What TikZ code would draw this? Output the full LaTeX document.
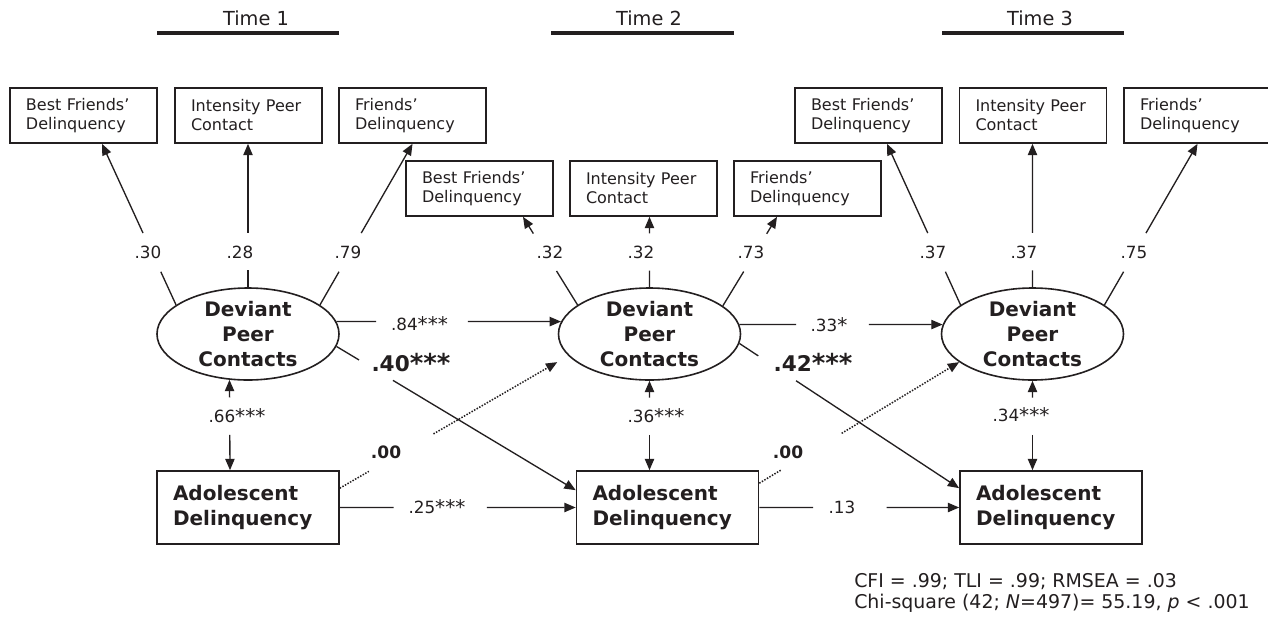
\documentclass[tikz,border=0pt]{standalone}
\usepackage{fontspec}
\usepackage{graphicx}
\setmainfont{DejaVu Sans}
\usetikzlibrary{shapes.geometric,arrows.meta,calc}
\definecolor{ink}{HTML}{231F20}
\newcommand\brkline[6]{%
  \draw[#1] (#3) -- ($(#3)!#5!(#4)$);
  \draw[#2] ($(#3)!#6!(#4)$) -- (#4);}
\newcommand\stars[1]{\raisebox{-0.12ex}{\scalebox{1.2}{#1}}}
\begin{document}
\begin{tikzpicture}[x=0.75pt,y=-0.75pt,
  ind/.style={draw=ink, line width=1.25pt, text width=86.25pt, inner xsep=12pt, inner ysep=0pt,
    minimum height=41.25pt, align=left, text=ink, font=\fontsize{12}{14.25}\selectfont},
  lat/.style={ellipse, draw=ink, line width=1.2pt, minimum width=136.5pt, minimum height=69pt,
    inner sep=-12pt, align=center, text=ink, font=\bfseries\fontsize{15}{18.75}\selectfont},
  obs/.style={draw=ink, line width=1.25pt, text width=112.5pt, inner xsep=12pt, inner ysep=0pt,
    minimum height=54.75pt, align=left, text=ink, font=\bfseries\fontsize{15}{18.75}\selectfont},
  conn/.style={line width=1pt, draw=ink},
  arr/.style={conn, -{Triangle[length=8.5pt,width=7pt]}},
  arrs/.style={conn, {Triangle[length=8.5pt,width=7pt]}-},
  dots/.style={conn, line width=1.15pt, dash pattern=on 1.1pt off 1.1pt},
  dotarr/.style={dots, -{Triangle[length=8.5pt,width=7pt]}},
  lab/.style={inner sep=0pt, text=ink, font=\fontsize{12.6}{14}\selectfont},
  blab/.style={inner sep=0pt, text=ink, font=\bfseries\fontsize{16.2}{18}\selectfont},
  slab/.style={inner sep=0pt, text=ink, font=\bfseries\fontsize{12.8}{14}\selectfont},
  timelab/.style={inner sep=0pt, text=ink, font=\fontsize{14.5}{17}\selectfont},
  timebar/.style={draw=ink, line width=3.2pt}
]
\useasboundingbox (0,0) rectangle (1268,618);
\fill[white] (0,0) rectangle (1268,618);

% time headings
\node[timelab] (time1) at (256,18) {Time 1};
\node[timelab] (time2) at (649,18) {Time 2};
\node[timelab] (time3) at (1040,18) {Time 3};
\draw[timebar] (157,33) -- (339,33);
\draw[timebar] (551,33) -- (734,33);
\draw[timebar] (942,33) -- (1124,33);

% indicator boxes
\node[ind] (b1) at (83.5,115.5) {Best Friends’\\Delinquency};
\node[ind] (b2) at (248.5,115.5) {Intensity Peer\\Contact};
\node[ind] (b3) at (412.5,115.5) {Friends’\\Delinquency};
\node[ind] (m1) at (479.5,188.5) {Best Friends’\\Delinquency};
\node[ind] (m2) at (643.5,188.5) {Intensity Peer\\Contact};
\node[ind] (m3) at (807.5,188.5) {Friends’\\Delinquency};
\node[ind] (c1) at (868.5,115.5) {Best Friends’\\Delinquency};
\node[ind] (c2) at (1033,115.5) {Intensity Peer\\Contact};
\node[ind] (c3) at (1197.5,115.5) {Friends’\\Delinquency};

% latent variables
\node[lat] (e1) at (248,334) {Deviant\\Peer\\Contacts};
\node[lat] (e2) at (649.5,334) {Deviant\\Peer\\Contacts};
\node[lat] (e3) at (1032.5,334) {Deviant\\Peer\\Contacts};

% observed delinquency
\node[obs] (ad1) at (248,507.5) {Adolescent\\Delinquency};
\node[obs] (ad2) at (667.5,507.5) {Adolescent\\Delinquency};
\node[obs] (ad3) at (1051,507.5) {Adolescent\\Delinquency};

% arrow end points on boxes
\coordinate (b1t) at ($(b1.south)+(18.5,0)$);
\coordinate (b2t) at (e1.north |- b2.south);
\coordinate (m1t) at ($(m1.south)+(43.5,0)$);
\coordinate (m2t) at (e2.north |- m2.south);
\coordinate (m3t) at ($(m3.south)+(-30.5,0)$);
\coordinate (c1t) at ($(c1.south)+(18.5,0)$);
\coordinate (c2t) at (e3.north |- c2.south);
\coordinate (ad1n) at ($(ad1.north)+(-18,0)$);
\coordinate (ad2n) at (e2.south |- ad2.north);
\coordinate (ad3n) at (e3.south |- ad3.north);
\coordinate (ad1r) at ($(ad1.north east)+(0,18)$);
\coordinate (ad2r) at ($(ad2.north east)+(0,13)$);
\coordinate (ad2l) at ($(ad2.north west)+(0,20)$);
\coordinate (ad3l) at ($(ad3.north west)+(0,18)$);

% loadings time 1
\brkline{conn}{arr}{e1.158}{b1t}{0.206}{0.446}
\brkline{conn}{arr}{e1.north}{b2t}{0.117}{0.379}
\brkline{conn}{arr}{e1.22}{b3.south}{0.206}{0.446}
\node[lab] (l1) at (148,252) {.30};
\node[lab] (l2) at (240,252) {.28};
\node[lab] (l3) at (348,252) {.79};

% loadings time 2
\brkline{conn}{arr}{e2.158}{m1t}{0.385}{0.81}
\brkline{conn}{arr}{e2.north}{m2t}{0.236}{0.764}
\brkline{conn}{arr}{e2.21}{m3t}{0.385}{0.81}
\node[lab] (l4) at (550,252) {.32};
\node[lab] (l5) at (641,252) {.32};
\node[lab] (l6) at (751,252) {.73};

% loadings time 3
\brkline{conn}{arr}{e3.158}{c1t}{0.206}{0.446}
\brkline{conn}{arr}{e3.north}{c2t}{0.117}{0.379}
\brkline{conn}{arr}{e3.22}{c3.south}{0.206}{0.446}
\node[lab] (l7) at (933,252) {.37};
\node[lab] (l8) at (1024,252) {.37};
\node[lab] (l9) at (1134,252) {.75};

% stability paths
\brkline{conn}{arr}{e1.8}{e2.172}{0.177}{0.585}
\node[lab] (p1) at (419.5,324) {.84\stars{***}};
\brkline{conn}{arr}{e2.6}{e3.174}{0.279}{0.637}
\node[lab] (p2) at (829,325) {.33\stars{*}};
\brkline{conn}{arr}{ad1.east}{ad2.west}{0.228}{0.624}
\node[lab] (p3) at (437,507) {.25\stars{***}};
\brkline{conn}{arr}{ad2.east}{ad3.west}{0.269}{0.637}
\node[lab] (p4) at (842,507) {.13};

% cross-lagged paths
\brkline{conn}{arr}{e1.352}{ad2l}{0.094}{0.236}
\node[blab] (x1) at (411,363) {.40\stars{***}};
\brkline{conn}{arr}{e2.354}{ad3l}{0.086}{0.258}
\node[blab] (x2) at (813,363) {.42\stars{***}};
\brkline{dots}{dotarr,shorten >=9.5pt}{ad1r}{e2.195}{0.127}{0.41}
\node[slab] (z1) at (386,452) {.00};
\brkline{dots}{dotarr}{ad2r}{e3.201}{0.109}{0.412}
\node[slab] (z2) at (788,452) {.00};

% within-time correlations
\brkline{arrs}{arr}{e1.248}{ad1n}{0.195}{0.608}
\node[lab] (r1) at (237,416) {.66\stars{***}};
\brkline{arrs}{arr}{e2.south}{ad2n}{0.187}{0.604}
\node[lab] (r2) at (656,416) {.36\stars{***}};
\brkline{arrs}{arr}{e3.south}{ad3n}{0.187}{0.604}
\node[lab] (r3) at (1021,415) {.34\stars{***}};

% fit indices
\node[anchor=west, align=left, inner sep=0pt, text=ink, font=\fontsize{14.2}{15.75}\selectfont] (fit) at (854,592.5)
  {CFI = .99; TLI = .99; RMSEA = .03\\Chi-square (42; \textit{N}=497)= 55.19, \textit{p} < .001};
\end{tikzpicture}
\end{document}
